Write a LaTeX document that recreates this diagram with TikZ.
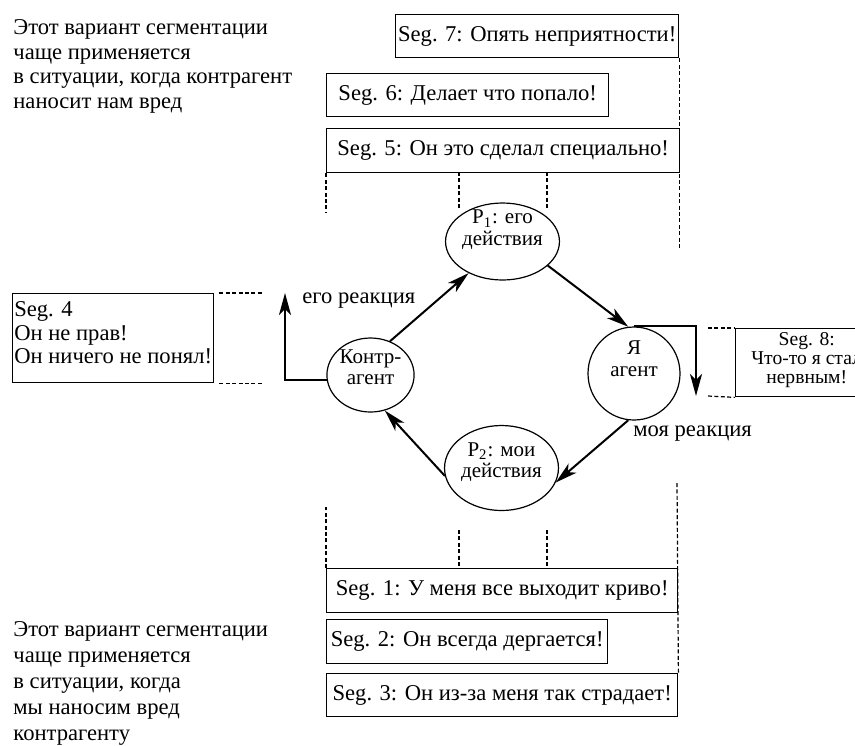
\documentclass[tikz,border=0pt]{standalone}
\usepackage{fontspec}
\setmainfont{Liberation Serif}
\usetikzlibrary{shapes.geometric}
\usetikzlibrary{arrows.meta}
\newcommand{\cirtext}[2]{\raisebox{#1}[0pt][0pt]{\begin{tabular}{@{}c@{}}#2\end{tabular}}}
\newcommand{\lefttext}[2]{\raisebox{#1}[0pt][0pt]{\begin{tabular}{@{}l@{}}#2\end{tabular}}}

\begin{document}
\begin{tikzpicture}[x=1pt, y=-1pt,
    segbox/.style={draw, line width=0.7pt, inner sep=0pt, anchor=north west, font=\fontsize{11.3}{12}\selectfont},
    circ/.style={draw, ellipse, line width=0.6pt, inner sep=0pt, font=\fontsize{10.5}{10.8}\selectfont},
    note/.style={align=left, inner sep=0pt, anchor=north west},
    lbl/.style={inner sep=0pt, anchor=base west, font=\fontsize{11.3}{12}\selectfont},
    conn/.style={line width=1pt, -{Stealth[length=11pt, width=6pt, inset=3pt]}},
    guide/.style={line width=0.6pt, dash pattern=on 2pt off 1.2pt}]
    \useasboundingbox (0,0) rectangle (427.5,372.5);
    \clip (0,0) rectangle (427.5,372.5);

    \node[note, font=\fontsize{11.3}{12.4}\selectfont] (topnote) at (6.5,9.5) {Этот вариант сегментации\\чаще применяется\\в ситуации, когда контрагент\\наносит нам вред};
    \node[note, font=\fontsize{11.3}{13}\selectfont] (botnote) at (6.5,310.5) {Этот вариант сегментации\\чаще применяется\\в ситуации, когда\\мы наносим вред\\контрагенту};

    \node[segbox, minimum width=141.5pt, minimum height=21.5pt] (seg7) at (197.5,7) {Seg. 7: Опять неприятности!};
    \node[segbox, minimum width=141pt, minimum height=21.5pt] (seg6) at (163,36.5) {Seg. 6: Делает что попало!};
    \node[segbox, minimum width=176.5pt, minimum height=22pt] (seg5) at (163,64) {Seg. 5: Он это сделал специально!};
    \node[segbox, minimum width=100.5pt, minimum height=44.5pt, font=\fontsize{11.3}{11.75}\selectfont] (seg4) at (6,146.5) {\lefttext{-1.5pt}{Seg. 4\\Он не прав!\\Он ничего не понял!}};
    \node[segbox, minimum width=71pt, minimum height=34pt, font=\fontsize{9.8}{9.5}\selectfont] (seg8) at (367.5,164) {\cirtext{-1.5pt}{Seg. 8:\\Что-то я стал\\нервным!}};
    \node[segbox, minimum width=175.5pt, minimum height=22pt] (seg1) at (163,284) {Seg. 1: У меня все выходит криво!};
    \node[segbox, minimum width=140.5pt, minimum height=22pt] (seg2) at (163,309.5) {Seg. 2: Он всегда дергается!};
    \node[segbox, minimum width=175.5pt, minimum height=21.5pt] (seg3) at (163,336.5) {Seg. 3: Он из-за меня так страдает!};

    \node[circ, minimum width=43.5pt, minimum height=38.5pt] (p1) at (251.25,120.75) {\cirtext{2.8pt}{P\textsubscript{1}: его\\действия}};
    \node[circ, minimum width=43.5pt, minimum height=37pt] (kontr) at (185.25,187.5) {\cirtext{0pt}{Контр-\\агент}};
    \node[circ, minimum width=46pt, minimum height=46.5pt] (agent) at (317,186.75) {\cirtext{3.3pt}{Я\\агент}};
    \node[circ, minimum width=45.5pt, minimum height=42.5pt] (p2) at (250.75,234) {\cirtext{0pt}{P\textsubscript{2}: мои\\действия}};

    \node[lbl] (hisreact) at (151,151.5) {его реакция};
    \node[lbl] (myreact) at (316.5,218) {моя реакция};

    \coordinate (c4) at (142.5,146.5);
    \coordinate (c8) at (348,198);

    \draw[conn] (kontr.60) -- (p1.-137);
    \draw[conn] (p1.-28) -- (agent.97);
    \draw[conn] (agent.-97) -- (p2.-15);
    \draw[conn] (p2.188) -- (kontr.-68);
    \draw[conn] (kontr.186) -| (c4);
    \draw[conn] (agent.north) -| (c8);

    \draw[guide] (seg5.south west) -- ++(0,20);
    \draw[guide] (229.5,86) -- (229.5,104.5);
    \draw[guide] (273.5,86) -- (273.5,104.5);
    \draw[guide] (seg7.south east) -- ++(0,95);
    \draw[guide] (seg1.north west) -- ++(0,-30.5);
    \draw[guide] (229.5,265) -- (229.5,283.5);
    \draw[guide] (273.5,265) -- (273.5,283.5);
    \draw[guide] (338.5,241.5) -- (seg3.north east);
    \draw[guide] ([xshift=2.5pt]seg4.north east) -- ++(22,0);
    \draw[guide] ([xshift=2.5pt]seg4.south east) -- ++(22,0);
    \draw[guide] (354,164) -- (seg8.north west);
    \draw[guide] (354,198) -- (seg8.south west);
\end{tikzpicture}
\end{document}
